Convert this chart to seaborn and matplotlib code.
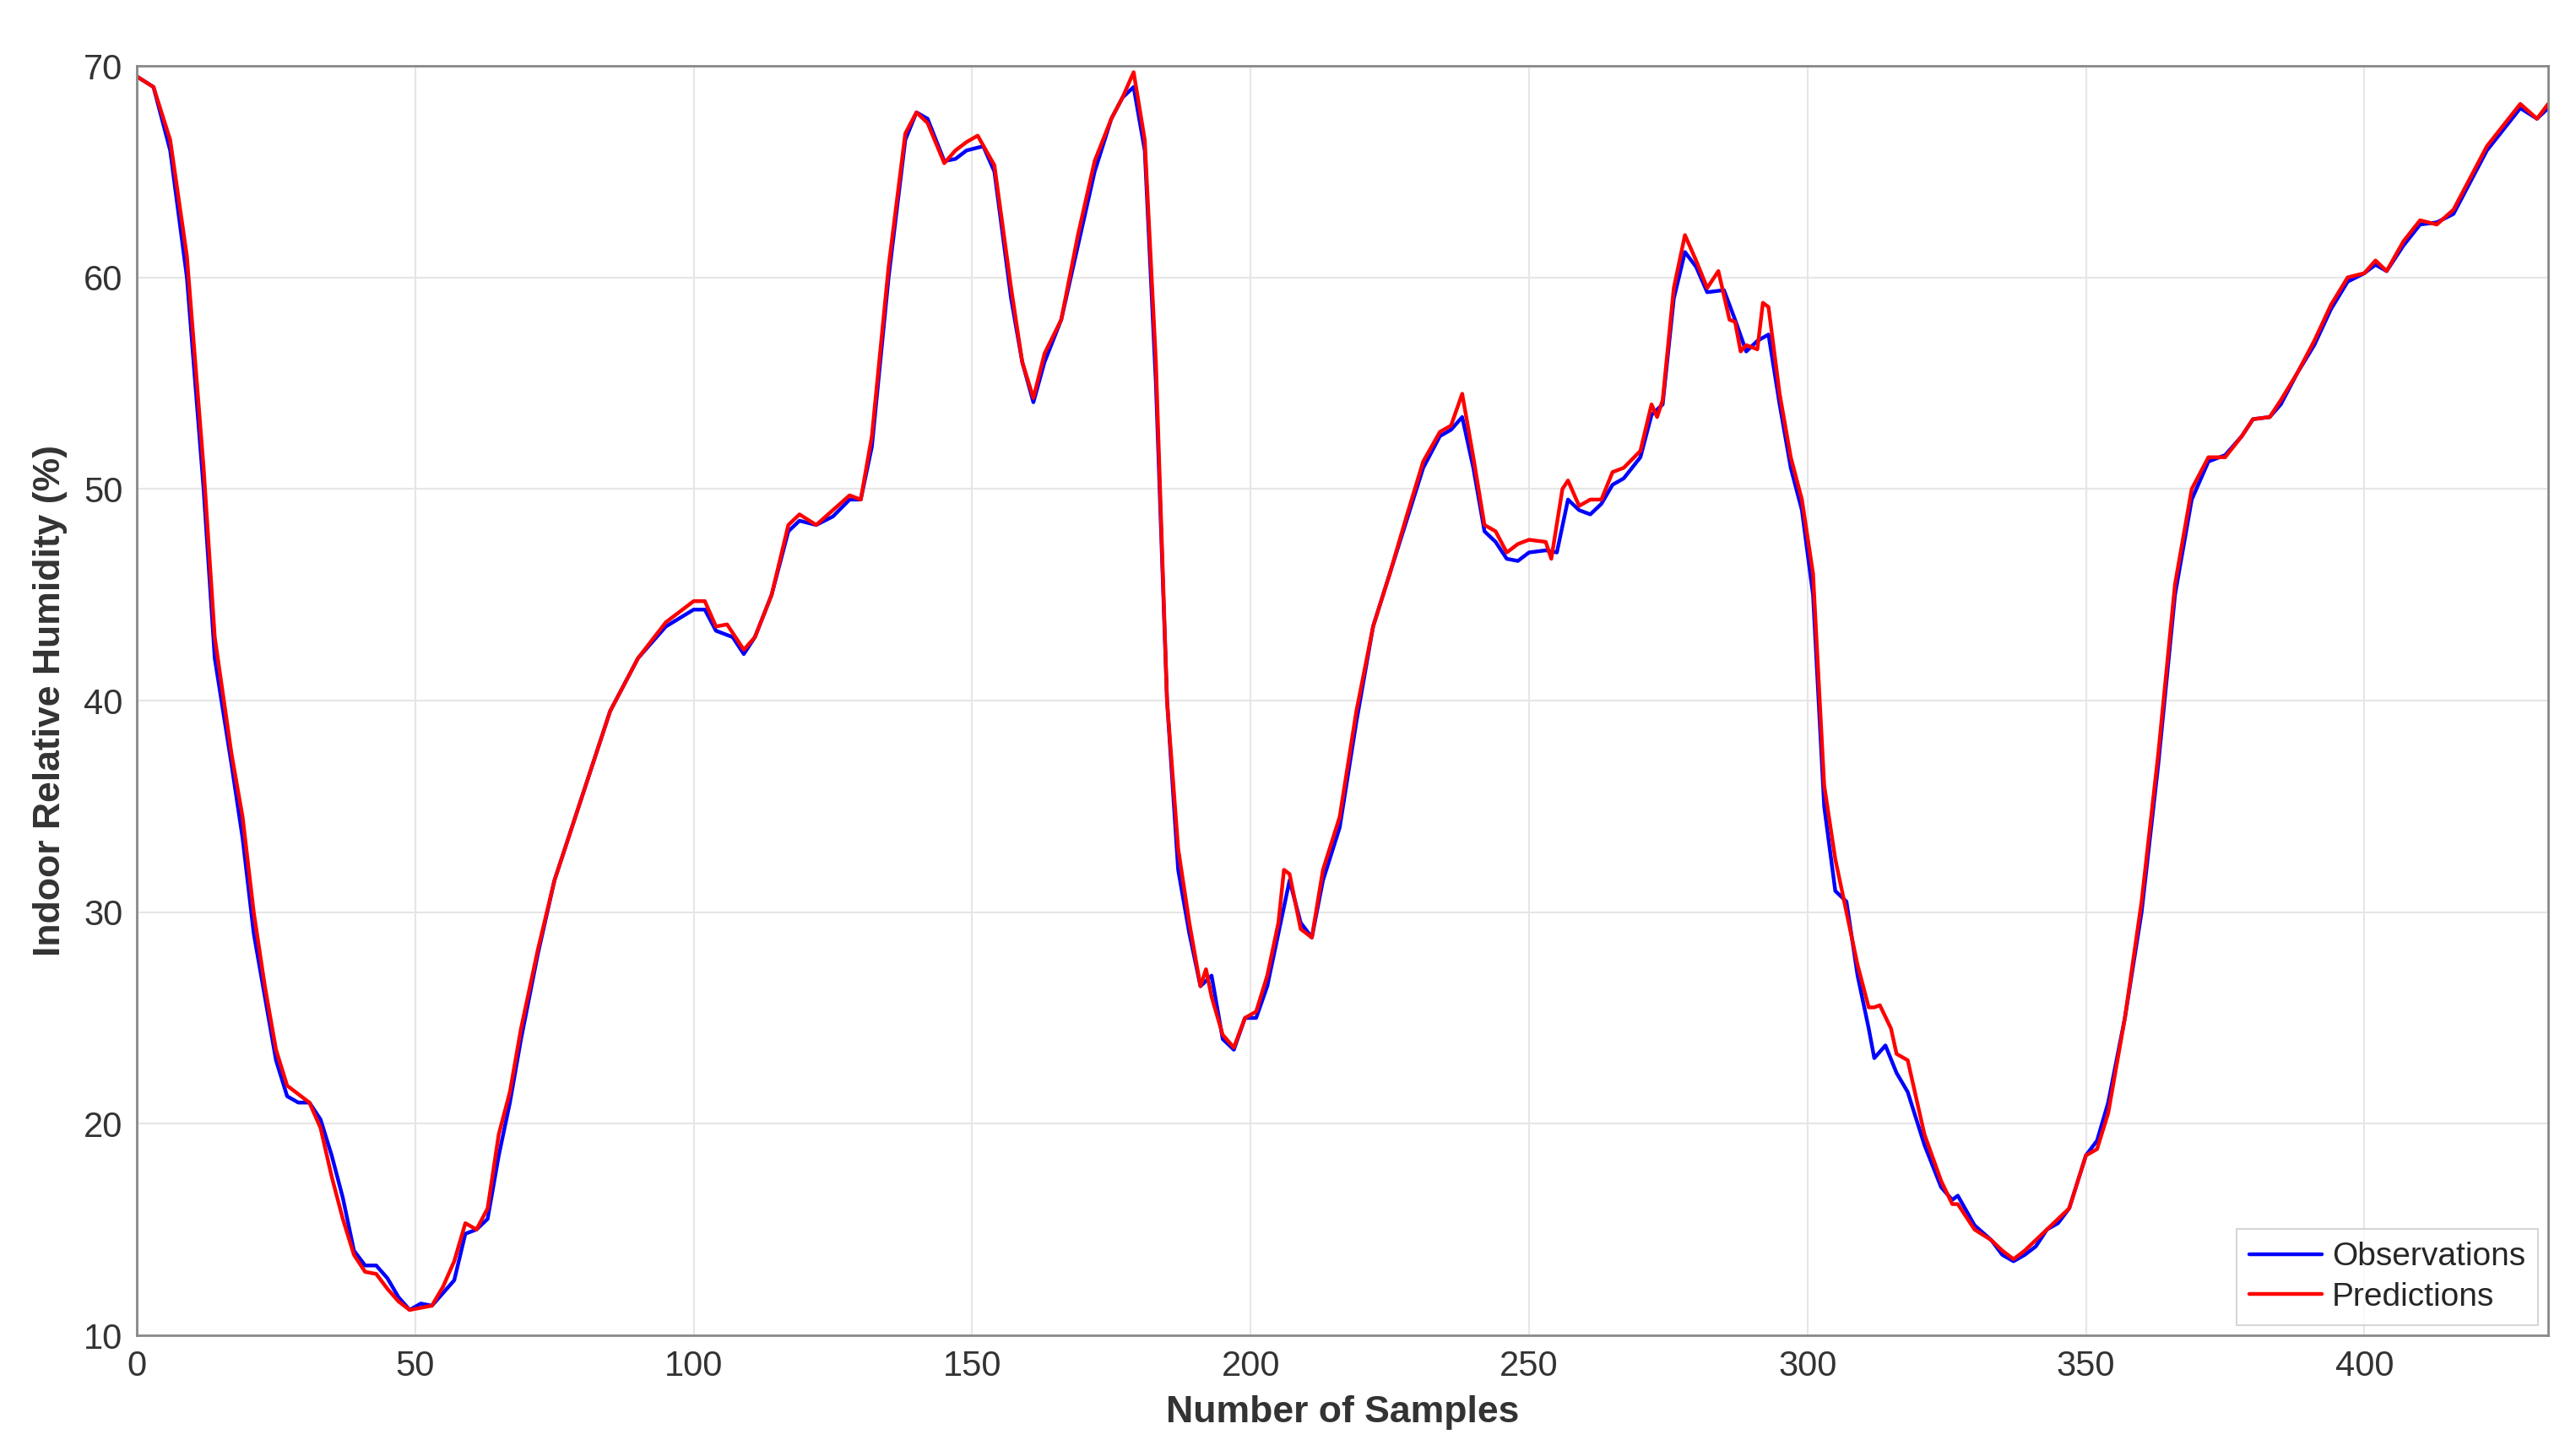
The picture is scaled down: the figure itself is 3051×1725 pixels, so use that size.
import matplotlib
matplotlib.use("Agg")
import matplotlib.pyplot as plt
import seaborn as sns
import pandas as pd

obs_x = [0,3,6,9,12,14,17,19,21,23,25,27,29,31,33,35,37,39,41,43,45,47,49,51,53,55,57,59,61,63,65,67,69,72,75,80,85,90,95,100,102,104,107,109,111,114,117,119,122,125,128,130,132,135,138,140,142,145,147,149,152,154,157,159,161,163,166,169,172,175,177,179,181,183,185,187,189,191,193,195,197,199,201,203,205,207,209,211,213,216,219,222,225,228,231,234,236,238,240,242,244,246,248,250,253,255,257,259,261,263,265,267,270,272,274,276,278,280,282,285,287,289,291,293,295,297,299,301,303,305,307,309,311,312,314,316,318,321,324,326,327,330,333,335,337,339,341,343,345,347,350,352,354,357,360,363,366,369,372,375,378,380,383,385,388,391,394,397,400,402,404,407,410,413,416,419,422,425,428,431,433]
obs_y = [69.5,69,66,60,50,42,37,33.5,29,26,23,21.3,21,21,20.2,18.5,16.5,14,13.3,13.3,12.7,11.8,11.2,11.5,11.4,12,12.6,14.8,15,15.5,18.5,21,24,28,31.5,35.5,39.5,42,43.5,44.3,44.3,43.3,43,42.2,43,45,48,48.5,48.3,48.7,49.5,49.5,52,60,66.5,67.8,67.5,65.5,65.6,66,66.2,65,59,56,54.1,56,58,61.5,65,67.5,68.5,69,66,55,40,32,29,26.5,27,24,23.5,25,25,26.5,29,31.5,29.5,28.8,31.5,34,39,43.5,46,48.5,51,52.5,52.8,53.4,51,48,47.5,46.7,46.6,47,47.1,47,49.5,49,48.8,49.3,50.2,50.5,51.5,53.5,54,59,61.2,60.5,59.3,59.4,58,56.5,57,57.3,54,51,49,45,35,31,30.5,27,24.5,23.1,23.7,22.4,21.5,19,17,16.4,16.6,15.2,14.5,13.8,13.5,13.8,14.2,15,15.3,16,18.5,19.2,21,25,30,37,45,49.5,51.3,51.6,52.5,53.3,53.4,54,55.5,56.8,58.5,59.8,60.2,60.6,60.3,61.5,62.5,62.6,63,64.5,66,67,68,67.5,68]

pred_x = [0,3,6,9,12,14,17,19,21,23,25,27,29,31,33,35,37,39,41,43,45,47,49,51,53,55,57,59,61,63,65,67,69,72,75,80,85,90,95,100,102,104,106,109,111,114,117,119,122,125,128,130,132,135,138,140,142,145,147,149,151,154,157,159,161,163,166,169,172,175,177,179,181,183,185,187,189,191,192,193,195,197,199,201,203,205,206,207,209,211,213,216,219,222,225,228,231,234,236,238,240,242,244,246,248,250,253,254,256,257,259,261,263,265,267,270,272,273,274,276,278,280,282,284,286,287,288,289,291,292,293,295,297,299,301,303,305,307,309,311,312,313,315,316,318,321,324,326,327,330,333,335,337,339,341,343,345,347,350,352,354,357,360,363,366,369,372,375,378,380,383,385,388,391,394,397,400,402,404,407,410,413,416,419,422,425,428,431,433]
pred_y = [69.5,69,66.5,61,51,43,37.5,34.5,30,26.5,23.5,21.8,21.4,21,19.8,17.5,15.5,13.8,13,12.9,12.2,11.6,11.2,11.3,11.4,12.3,13.5,15.3,15,16,19.5,21.5,24.5,28.2,31.5,35.5,39.5,42,43.7,44.7,44.7,43.5,43.6,42.4,43,45,48.3,48.8,48.3,49,49.7,49.5,52.5,60.5,66.8,67.8,67.3,65.4,66,66.4,66.7,65.3,59.5,56,54.3,56.4,58,62,65.5,67.5,68.5,69.7,66.5,56,40,33,29.5,26.5,27.3,26,24.2,23.6,25,25.3,27,29.5,32,31.8,29.2,28.8,32,34.5,39.5,43.5,46,48.7,51.3,52.7,53,54.5,51.5,48.3,48,47,47.4,47.6,47.5,46.7,50,50.4,49.2,49.5,49.5,50.8,51,51.8,54,53.4,54.2,59.5,62,60.8,59.5,60.3,58,57.9,56.5,56.8,56.6,58.8,58.6,54.5,51.5,49.5,46,36,32.5,30,27.5,25.5,25.5,25.6,24.5,23.3,23,19.5,17.3,16.2,16.2,15,14.5,14,13.6,14,14.5,15,15.5,16,18.5,18.8,20.5,25,30.5,37.5,45.5,50,51.5,51.5,52.5,53.3,53.4,54.2,55.5,57,58.7,60,60.2,60.8,60.3,61.7,62.7,62.5,63.2,64.7,66.2,67.2,68.2,67.5,68.2]

sns.set_theme(style="whitegrid")
plt.rcParams['font.family'] = ['Liberation Sans', 'DejaVu Sans']

df_obs = pd.DataFrame({"x": obs_x, "y": obs_y})
df_pred = pd.DataFrame({"x": pred_x, "y": pred_y})

fig = plt.figure(figsize=(30.51, 17.25), dpi=100)
ax = fig.add_axes([162/3051, 1-1582/1725, (3018-162)/3051, (1582-78)/1725])
sns.lineplot(data=df_obs, x="x", y="y", ax=ax, color="#0000ff", lw=3.2, label="Observations")
sns.lineplot(data=df_pred, x="x", y="y", ax=ax, color="#ff0000", lw=3.2, label="Predictions")

ax.set_xlim(0, 433)
ax.set_ylim(10, 70)
ax.set_xticks(range(0, 401, 50))
ax.set_yticks(range(10, 71, 10))
ax.grid(True, color="#e6e6e6", lw=1.5)
ax.set_facecolor("white")
for s in ax.spines.values():
    s.set_color("#888888")
    s.set_linewidth(2)
ax.tick_params(axis="both", labelsize=30, colors="#333333", length=10, direction="in", width=2, pad=12)
ax.set_xlabel("Number of Samples", fontsize=32, fontweight="bold", color="#333333", labelpad=10)
ax.set_ylabel("Indoor Relative Humidity (%)", fontsize=32, fontweight="bold", color="#333333", labelpad=14)
leg = ax.legend(loc="lower right", fontsize=28, frameon=True, fancybox=False,
                handlelength=2.2, borderpad=0.4, labelspacing=0.3, handletextpad=0.3,
                borderaxespad=0.3, edgecolor="#cccccc")
leg.get_frame().set_linewidth(1.5)
fig.savefig("out.png", dpi=100, facecolor="white")
